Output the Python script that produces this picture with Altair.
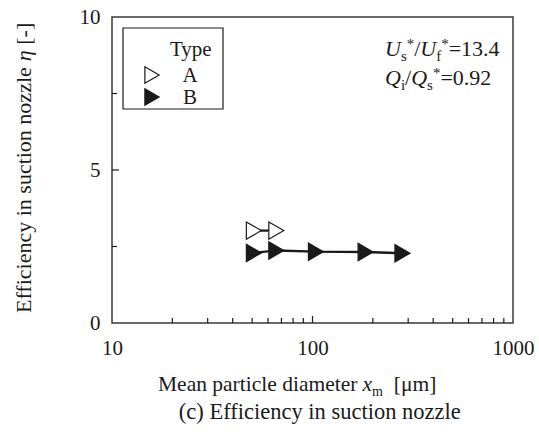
import altair as alt
import pandas as pd

# ---- measured data ----
types = ["A", "B"]
a_diam = [51, 66]
a_eff = [3.02, 3.02]
b_diam = [51, 66, 104, 184, 281]
b_eff = [2.29, 2.37, 2.33, 2.32, 2.28]

x_ticks_major = [100]
x_ticks_minor = [20, 30, 40, 50, 60, 70, 80, 90, 200, 300, 400, 500, 600, 700, 800, 900]
x_labels = [10, 100, 1000]
y_ticks_major = [5]
y_ticks_minor = [2.5, 7.5]
y_labels = [0, 5, 10]

us_uf = "13.4"
qi_qs = "0.92"

# ---- layout ----
W, H = 401, 306
LEFT, TOP = 112, 17
FONT = "'Liberation Serif', 'Times New Roman', Times, serif"
INK = "#1a1a1a"

# Times-style advance widths (per 1000 em) used to chain rich-text runs
REG = {' ': 250, '/': 278, '*': 500, '=': 564, '.': 250, '-': 333, '[': 333, ']': 333,
       '(': 333, ')': 333, 'μ': 500, 'E': 611, 'M': 889, 'T': 611, 'A': 722, 'B': 667}
REG.update({d: 500 for d in "0123456789"})
REG.update(dict(zip("abcdefghijklmnopqrstuvwxyz",
                    [444, 500, 444, 500, 444, 333, 500, 500, 278, 278, 500, 278, 778,
                     500, 500, 500, 500, 333, 389, 278, 500, 500, 722, 500, 500, 444])))
ITA = {'U': 722, 'Q': 722, 'x': 444, 'η': 500}


def text_width(s, italic, size):
    table = ITA if italic else REG
    return sum(table.get(c, 500) for c in s) * size / 1000.0


def runs(parts, x0, y0, vertical=False):
    """parts: list of (text, italic, size, shift, gap). Returns text layers laid end to end."""
    layers = []
    pos = 0.0
    for txt, italic, size, shift, gap in parts:
        pos += gap
        if vertical:
            px, py, ang = x0 + shift, y0 - pos, 270
        else:
            px, py, ang = x0 + pos, y0 + shift, 0
        layers.append(
            alt.Chart(pd.DataFrame({"t": [txt]}))
            .mark_text(align="left", baseline="alphabetic", font=FONT, fontSize=size,
                       fontStyle="italic" if italic else "normal", angle=ang, color=INK)
            .encode(x=alt.value(px - LEFT), y=alt.value(py - TOP), text="t:N")
        )
        pos += text_width(txt, italic, size)
    return layers


xscale = alt.Scale(type="log", domain=[10, 1000])
yscale = alt.Scale(domain=[0, 10])
xaxis = alt.Axis(values=x_labels, format="d", ticks=False, domain=False, grid=False,
                 labelFont=FONT, labelFontSize=21, labelColor=INK, labelPadding=14,
                 labelFlush=False, title=None)
yaxis = alt.Axis(values=y_labels, format="d", ticks=False, domain=False, grid=False,
                 labelFont=FONT, labelFontSize=21, labelColor=INK, labelPadding=12,
                 labelFlush=False, title=None)
X = alt.X("x:Q", scale=xscale, axis=xaxis)
Y = alt.Y("y:Q", scale=yscale, axis=yaxis)

series = pd.concat([
    pd.DataFrame({"x": a_diam, "y": a_eff, "type": types[0]}),
    pd.DataFrame({"x": b_diam, "y": b_eff, "type": types[1]}),
])

lines = alt.Chart(series).mark_line(color=INK, strokeWidth=2.3).encode(
    x=X, y=Y, detail="type:N")

points = alt.Chart(series).mark_point(shape="triangle-right", size=300, strokeWidth=1.2,
                                      stroke=INK, opacity=1, filled=True).encode(
    x=X, y=Y,
    fill=alt.Fill("type:N", scale=alt.Scale(domain=types, range=["white", INK]), legend=None))

# inward tick marks
xt_major = alt.Chart(pd.DataFrame({"x": x_ticks_major})).mark_rule(color=INK, strokeWidth=1.2).encode(
    x=X, y=alt.value(H), y2=alt.value(H - 7))
xt_minor = alt.Chart(pd.DataFrame({"x": x_ticks_minor})).mark_rule(color=INK, strokeWidth=1.2).encode(
    x=X, y=alt.value(H), y2=alt.value(H - 5))
yt_major = alt.Chart(pd.DataFrame({"y": y_ticks_major})).mark_rule(color=INK, strokeWidth=1.2).encode(
    y=Y, x=alt.value(0), x2=alt.value(7))
yt_minor = alt.Chart(pd.DataFrame({"y": y_ticks_minor})).mark_rule(color=INK, strokeWidth=1.2).encode(
    y=Y, x=alt.value(0), x2=alt.value(5))

# legend box
one = pd.DataFrame({"k": [0]})
legend_box = alt.Chart(one).mark_rect(fill="white", stroke=INK, strokeWidth=1.2).encode(
    x=alt.value(123 - LEFT), x2=alt.value(223 - LEFT),
    y=alt.value(28 - TOP), y2=alt.value(109 - TOP))
legend_title = alt.Chart(pd.DataFrame({"t": ["Type"]})).mark_text(
    align="left", baseline="alphabetic", font=FONT, fontSize=21, color=INK).encode(
    x=alt.value(170 - LEFT), y=alt.value(56 - TOP), text="t:N")
legend_layers = [legend_box, legend_title]
for i, (t, fill) in enumerate(zip(types, ["white", INK])):
    cy = 75 + 22 * i
    legend_layers.append(
        alt.Chart(pd.DataFrame({"t": [t]})).mark_point(
            shape="triangle-right", size=270, strokeWidth=1.2, stroke=INK, fill=fill,
            filled=True, opacity=1).encode(x=alt.value(152 - LEFT), y=alt.value(cy - TOP)))
    legend_layers.append(
        alt.Chart(pd.DataFrame({"t": [t]})).mark_text(
            align="center", baseline="middle", font=FONT, fontSize=21, color=INK).encode(
            x=alt.value(190 - LEFT), y=alt.value(cy + 1 - TOP), text="t:N"))

# condition annotations
ann = []
ann += runs([("U", True, 22, 0, 0), ("s", False, 15, 5, 0), ("*", False, 15, -7, 0),
             ("/", False, 22, 0, 0), ("U", True, 22, 0, 0), ("f", False, 15, 5, 0),
             ("*", False, 15, -7, 0), ("=" + us_uf, False, 22, 0, 0)], 385, 56)
ann += runs([("Q", True, 22, 0, 0), ("i", False, 15, 5, 0), ("/", False, 22, 0, 0),
             ("Q", True, 22, 0, 0), ("s", False, 15, 5, 0), ("*", False, 15, -7, 0),
             ("=" + qi_qs, False, 22, 0, 0)], 385, 85)

# axis titles and caption
titles = []
titles += runs([("Mean particle diameter", False, 21.5, 0, 0), ("x", True, 21.5, 0, 5),
                ("m", False, 14, 5, 0), ("[μm]", False, 21.5, 0, 11)], 158, 391)
cap = "(c) Efficiency in suction nozzle"
CAP_SIZE = 22.5
titles += runs([(cap, False, CAP_SIZE, 0, 0)], 320 - text_width(cap, False, CAP_SIZE) / 2, 419)
titles += runs([("Efficiency in suction nozzle", False, 22, 0, 0), ("η", True, 22, 0, 5.5),
                ("[-]", False, 22, 0, 5.5)], 31, 313, vertical=True)

chart = alt.layer(
    lines, points, xt_major, xt_minor, yt_major, yt_minor,
    *legend_layers, *ann, *titles
).properties(
    width=W, height=H,
    padding={"left": LEFT, "top": TOP, "right": 539 - LEFT - W, "bottom": 442 - TOP - H},
    autosize=alt.AutoSizeParams(type="none"),
    background="white",
).configure_view(stroke="#3a3a3a", strokeWidth=1.5)

chart.save("out.html", embed_options={"renderer": "svg", "actions": False})
